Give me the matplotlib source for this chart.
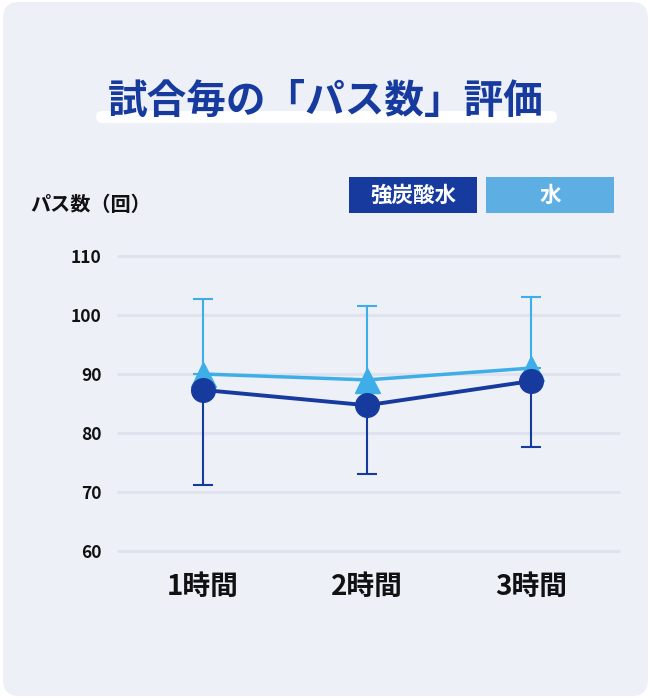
import matplotlib.pyplot as plt
from matplotlib.patches import FancyBboxPatch

plt.rcParams['font.family'] = ['Noto Sans CJK JP', 'DejaVu Sans']

# data
categories = ['1時間', '2時間', '3時間']
carbonated = [87.3, 84.7, 88.8]
carbonated_err = [16.1, 11.7, 11.2]
water = [90.0, 89.0, 91.0]
water_err = [12.7, 12.5, 12.0]
yticks = [60, 70, 80, 90, 100, 110]
series_names = ['強炭酸水', '水']

NAVY = '#163a9e'
LIGHT = '#3eaee8'
LEGEND_LIGHT = '#5daee3'
CARD = '#edf0f7'
GRID = '#dfe3ee'

W, H = 651, 698
fig = plt.figure(figsize=(W / 100, H / 100), dpi=100)
fig.patch.set_facecolor('white')


def fx(px):
    return px / W


def fy(py):
    return 1 - py / H


# card background
card = FancyBboxPatch((fx(3), fy(696)), fx(645), 694 / H,
                      boxstyle='round,pad=0,rounding_size=0.024',
                      transform=fig.transFigure, facecolor=CARD,
                      edgecolor='none', zorder=-2)
fig.patches.append(card)

# title with white highlight bar
bar = FancyBboxPatch((fx(96), fy(123)), fx(461), 12 / H,
                     boxstyle='round,pad=0,rounding_size=0.009',
                     transform=fig.transFigure, facecolor='white',
                     edgecolor='none', zorder=-1)
fig.patches.append(bar)
fig.text(fx(326), fy(101), '試合毎の「パス数」評価', ha='center', va='center',
         fontsize=28.5, fontweight='bold', color=NAVY, zorder=2)

# legend boxes
for (x0, x1), name, col in zip([(349, 477), (486, 614)], series_names, [NAVY, LEGEND_LIGHT]):
    box = FancyBboxPatch((fx(x0), fy(213)), fx(x1 - x0), 36 / H,
                         boxstyle='square,pad=0', transform=fig.transFigure,
                         facecolor=col, edgecolor='none', zorder=-1)
    fig.patches.append(box)
    fig.text(fx((x0 + x1) / 2), fy(195), name, ha='center', va='center',
             fontsize=15.5, fontweight='bold', color='white', zorder=2)

# y axis title
fig.text(fx(30), fy(204), 'パス数（回）', ha='left', va='center',
         fontsize=14.5, fontweight='bold', color='#111111')

# main axes
ax = fig.add_axes([fx(117), fy(551), fx(503), 295 / H])
ax.set_zorder(5)
ax.set_facecolor('none')
x = list(range(len(categories)))

ax.hlines(yticks, -0.524, 2.543, colors=GRID, linewidth=2.2, zorder=1, clip_on=False)

ax.errorbar(x, water, yerr=[[0] * 3, water_err], fmt='none', ecolor=LIGHT,
            elinewidth=1.5, capsize=7, capthick=1.5, zorder=2, clip_on=False)
ax.errorbar(x, carbonated, yerr=[carbonated_err, [0] * 3], fmt='none', ecolor=NAVY,
            elinewidth=1.5, capsize=7, capthick=1.5, zorder=2, clip_on=False)
ax.plot(x, water, color=LIGHT, linewidth=2.5, marker='^', markersize=18,
        zorder=3, clip_on=False)
ax.plot(x, carbonated, color=NAVY, linewidth=2.8, marker='o', markersize=17,
        zorder=4, clip_on=False)

ax.set_xlim(-0.524, 2.543)
ax.set_ylim(60, 110)
ax.set_yticks(yticks)
ax.set_yticklabels([str(v) for v in yticks], fontsize=12.5, fontweight='bold', color='#111111')
ax.set_xticks(x)
ax.set_xticklabels(categories, fontsize=20, fontweight='bold', color='#111111')
ax.tick_params(axis='both', length=0)
ax.tick_params(axis='y', pad=11)
ax.tick_params(axis='x', pad=16)
for s in ax.spines.values():
    s.set_visible(False)

fig.savefig('out.png', dpi=100, facecolor='white')
